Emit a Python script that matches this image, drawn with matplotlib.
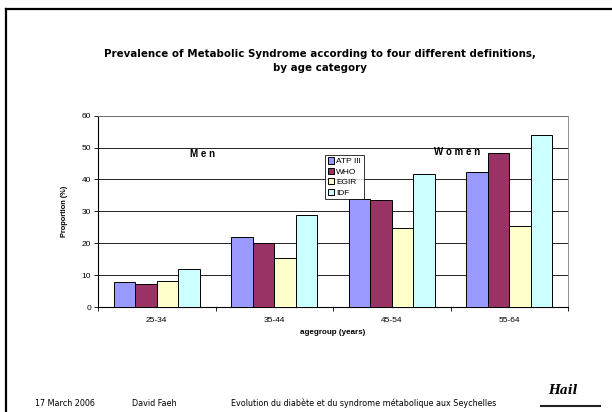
import numpy as np
import matplotlib
matplotlib.use('Agg')
import matplotlib.pyplot as plt
from matplotlib.lines import Line2D

# data
agegroups = ['25-34', '35-44', '45-54', '55-64']
definitions = ['ATP III', 'WHO', 'EGIR', 'IDF']
atp = [7.7, 22.0, 34.0, 42.3]
who = [7.3, 20.0, 33.7, 48.4]
egir = [8.3, 15.5, 24.9, 25.4]
idf = [11.8, 28.8, 41.6, 54.1]
colors = ['#9999ff', '#993366', '#ffffcc', '#ccffff']

fig = plt.figure(figsize=(6.12, 4.12), dpi=100)

# slide frame (top and left rule)
fig.add_artist(Line2D([6/612, 1], [1 - 9/412, 1 - 9/412], color='black', lw=1.6))
fig.add_artist(Line2D([6/612, 6/612], [0, 1 - 9/412], color='black', lw=1.6))

ax = fig.add_axes([98/612, 1 - 307/412, 470/612, 191.3/412])

x = np.arange(len(agegroups))
w = 0.182
series = [atp, who, egir, idf]
for i, (vals, lab, c) in enumerate(zip(series, definitions, colors)):
    ax.bar(x + (i - 1.5) * w, vals, w, color=c, edgecolor='black', linewidth=0.7,
           label=lab, zorder=3)

ax.set_xlim(-0.5, 3.5)
ax.set_ylim(0, 60)
ax.set_yticks(range(0, 61, 10))
ax.yaxis.grid(True, color='black', linewidth=0.6, zorder=0)
ax.set_xticks(x)
ax.set_xticklabels(agegroups, fontsize=6, family='Liberation Sans')
ax.set_xticks(np.arange(-0.5, 3.6, 1), minor=True)
ax.tick_params(axis='x', which='major', length=0, pad=7)
ax.tick_params(axis='x', which='minor', length=3, width=0.6, direction='out')
ax.tick_params(axis='y', length=3, width=0.6, direction='out', pad=2)
for t in ax.get_yticklabels():
    t.set_fontsize(6)
    t.set_family('Liberation Sans')

ax.spines['left'].set_linewidth(0.8)
ax.spines['bottom'].set_linewidth(0.8)
ax.spines['top'].set_color('#808080')
ax.spines['right'].set_color('#808080')
ax.spines['top'].set_linewidth(0.6)
ax.spines['right'].set_linewidth(0.6)

ax.set_xlabel('agegroup (years)', fontsize=5.8, family='Liberation Sans',
              fontweight='bold', labelpad=4)
ax.set_ylabel('Proportion (%)', fontsize=5.3, family='Liberation Sans',
              fontweight='bold', labelpad=10)

ax.text(0.39, 48.0, 'M e n', fontsize=7, fontweight='bold',
        family='Liberation Sans', ha='center', va='center')
ax.text(2.56, 48.6, 'W o m e n', fontsize=7, fontweight='bold',
        family='Liberation Sans', ha='center', va='center')

leg = ax.legend(loc='upper left', bbox_to_anchor=(0.483, 0.795),
                prop={'family': 'Liberation Sans', 'size': 6},
                frameon=True, fancybox=False, edgecolor='black',
                handlelength=0.75, handleheight=0.75, handletextpad=0.3,
                borderpad=0.3, labelspacing=0.3, borderaxespad=0)
leg.get_frame().set_linewidth(0.7)
leg.set_zorder(5)

fig.text(320/612, 1 - 61/412,
         'Prevalence of Metabolic Syndrome according to four different definitions,\nby age category',
         ha='center', va='center', fontsize=7.4, fontweight='bold',
         family='DejaVu Sans', linespacing=1.4)

# footer
fy = 1 - 403/412
fig.text(35/612, fy, '17 March 2006', fontsize=5.8, family='DejaVu Sans', va='center')
fig.text(132/612, fy, 'David Faeh', fontsize=5.8, family='DejaVu Sans', va='center')
fig.text(231/612, fy, 'Evolution du diabète et du syndrome métabolique aux Seychelles',
         fontsize=5.8, family='DejaVu Sans', va='center')
fig.text(563/612, 1 - 391/412, 'Hail', fontsize=9, fontweight='bold', style='italic',
         family='DejaVu Serif', ha='center', va='center')
fig.add_artist(Line2D([541/612, 600/612], [1 - 406/412, 1 - 406/412], color='#222222', lw=1.5))

fig.savefig('out.png', dpi=100)
